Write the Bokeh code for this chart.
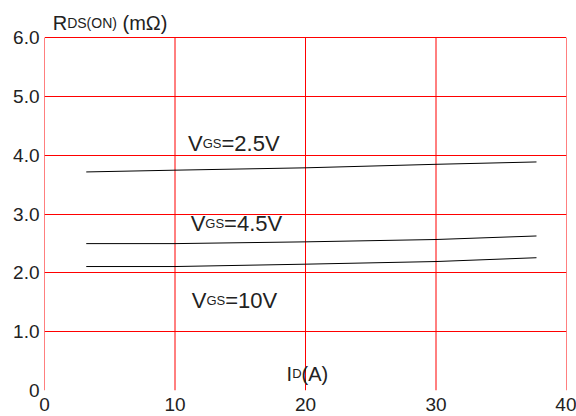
from bokeh.plotting import figure
from bokeh.models import Label, FixedTicker, Range1d
from bokeh.embed import file_html
from bokeh.resources import INLINE

# ---- data ----
id_a = [3.2, 10, 20, 30, 37.7]
r_vgs25 = [3.72, 3.75, 3.79, 3.85, 3.89]
r_vgs45 = [2.50, 2.50, 2.53, 2.57, 2.63]
r_vgs10 = [2.11, 2.11, 2.15, 2.195, 2.26]

x_ticks = [0, 10, 20, 30, 40]
y_ticks = [0, 1, 2, 3, 4, 5, 6]
y_tick_labels = ["0", "1.0", "2.0", "3.0", "4.0", "5.0", "6.0"]

FONT = "Liberation Sans"
TXT = "#222222"
GRID = "#ff0000"

# frame extends above y=6 so that the axis title (drawn as labels) is not clipped
p = figure(width=576, height=416,
           x_range=Range1d(0, 40), y_range=Range1d(0, 6.638),
           output_backend="svg", toolbar_location=None,
           min_border_left=44, min_border_right=10, min_border_top=0, min_border_bottom=26)

p.outline_line_color = None
p.background_fill_color = "white"
p.border_fill_color = "white"

for ax in (p.xaxis[0], p.yaxis[0]):
    ax.axis_line_color = None
    ax.major_tick_line_color = None
    ax.minor_tick_line_color = None
    ax.major_tick_out = 0
    ax.major_tick_in = 0
    ax.major_label_text_font = FONT
    ax.major_label_text_font_size = "19px"
    ax.major_label_text_color = TXT

p.xaxis[0].ticker = FixedTicker(ticks=x_ticks)
p.yaxis[0].ticker = FixedTicker(ticks=y_ticks)
p.yaxis[0].major_label_overrides = {t: s for t, s in zip(y_ticks, y_tick_labels)}
p.xaxis[0].major_label_standoff = 7
p.yaxis[0].major_label_standoff = 5

# horizontal grid lines span the full width (0..40)
p.ygrid.grid_line_color = GRID
p.ygrid.grid_line_alpha = 1.0
p.ygrid.ticker = FixedTicker(ticks=y_ticks)
p.xgrid.visible = False

# vertical grid lines (incl. left/right border) only between y=0 and y=6
n = len(x_ticks)
p.segment(x0=x_ticks, y0=[y_ticks[0]] * n, x1=x_ticks, y1=[y_ticks[-1]] * n,
          line_color=GRID, line_width=1)

for ys in (r_vgs25, r_vgs45, r_vgs10):
    p.line(id_a, ys, line_color="black", line_width=1)


def w(txt, size):
    widths = {"V": 667, "G": 778, "S": 667, "D": 722, "(": 333, ")": 333, "O": 778,
              "N": 722, "=": 584, ".": 278, " ": 278, "m": 833, "Ω": 768, "I": 278,
              "R": 722, "A": 667}
    return sum(widths.get(c, 556) for c in txt) * size / 1000.0


def multi_label(x, y, parts, dy=0):
    off = 0.0
    for txt, size in parts:
        lead = len(txt) - len(txt.lstrip(" "))
        off += w(" " * lead, size)
        p.add_layout(Label(x=x, y=y, x_offset=off, y_offset=dy, text=txt.lstrip(" "),
                           text_font=FONT, text_font_size=f"{size}px", text_color=TXT,
                           text_baseline="alphabetic", text_align="left"))
        off += w(txt.lstrip(" "), size)


def vgs(x, y, val):
    multi_label(x, y, [("V", 22), ("GS", 13), ("=" + val, 22)], dy=7)


vgs(11.0, 4.09, "2.5V")
vgs(11.2, 2.72, "4.5V")
vgs(11.28, 1.41, "10V")

multi_label(18.55, 0.17, [("I", 20), ("D", 13), ("(A)", 20)], dy=7)
multi_label(0.63, 6.213, [("R", 20), ("DS(ON)", 14), (" (mΩ)", 20)], dy=2)

open("out.html", "w").write(file_html(p, INLINE))
